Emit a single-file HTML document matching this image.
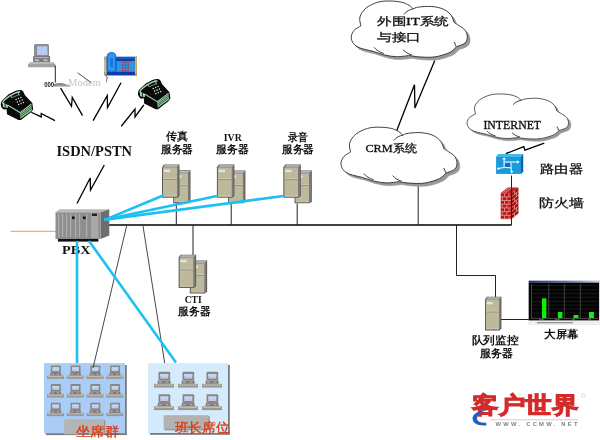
<!DOCTYPE html>
<html><head><meta charset="utf-8">
<style>
html,body{margin:0;padding:0;background:#fff;width:600px;height:440px;overflow:hidden}
svg{position:absolute;left:0;top:0;display:block;will-change:transform}
text{font-family:"Liberation Serif",serif}
</style></head><body>
<svg width="600" height="440" viewBox="0 0 600 440">
<defs>
  <path id="cloudp" d="M9.4,24.6 C9.23,23.12 7.55,18.67 8.40,15.70 C9.25,12.73 11.52,9.27 14.50,6.80 C17.48,4.33 22.35,2.08 26.30,0.90 C30.25,-0.28 34.25,-0.30 38.20,-0.30 C42.15,-0.30 46.78,0.18 50.00,0.90 C53.22,1.62 55.58,2.88 57.50,4.00 C59.42,5.12 60.83,7.00 61.50,7.60 C62.42,7.30 63.85,6.20 67.00,5.80 C70.15,5.40 76.20,4.83 80.40,5.20 C84.60,5.57 89.00,6.53 92.20,8.00 C95.40,9.47 97.88,11.83 99.60,14.00 C101.32,16.17 102.02,19.83 102.50,21.00 C103.33,21.55 105.65,22.97 107.50,24.30 C109.35,25.63 112.22,27.12 113.60,29.00 C114.98,30.88 115.82,33.47 115.80,35.60 C115.78,37.73 115.30,40.17 113.50,41.80 C111.70,43.43 106.42,44.80 105.00,45.40 C103.85,46.37 101.72,49.50 98.10,51.20 C94.48,52.90 88.32,54.87 83.30,55.60 C78.28,56.33 72.22,55.83 68.00,55.60 C63.78,55.37 59.67,54.43 58.00,54.20 C55.83,54.40 49.05,55.47 45.00,55.40 C40.95,55.33 37.80,54.75 33.70,53.80 C29.60,52.85 22.62,50.38 20.40,49.70 C18.43,49.20 11.67,47.93 8.60,46.70 C5.53,45.47 3.47,44.15 2.00,42.30 C0.53,40.45 -0.37,37.82 -0.25,35.60 C-0.13,33.38 1.09,30.83 2.70,29.00 C4.31,27.17 8.28,25.33 9.40,24.60 Z"/>
  <g id="cloud">
    <use href="#cloudp" transform="translate(2.8,2.8)" fill="#989898" stroke="#989898" stroke-width="0.6" vector-effect="non-scaling-stroke"/>
    <use href="#cloudp" fill="#fff" stroke="#3c3c3c" stroke-width="1" vector-effect="non-scaling-stroke"/>
    <path d="M52.5,13 C55,10 58,8.3 62,7.5 M22.6,46 C25,49 28,51 32.3,52.2 M51.4,48.2 C54,51 56.5,52.6 60.3,53.6 M102.5,40.5 C103.5,42 104,43.5 104.5,45.2" fill="none" stroke="#3c3c3c" stroke-width="1" vector-effect="non-scaling-stroke"/>
  </g>
  <g id="tower">
    <path d="M0,3 L2,0.3 L17.5,0.3 L17.5,31.5 L15.5,33.5 L0,33.5 Z" fill="#5a5a5a"/>
    <polygon points="1,3.2 2.6,1.1 16.6,1.1 15,3.2" fill="#a8a8a8"/>
    <line x1="2.6" y1="1.3" x2="16.4" y2="1.3" stroke="#d4d4d4" stroke-width="0.6"/>
    <rect x="1" y="3.2" width="14" height="29.4" fill="#bdb99c"/>
    <polygon points="15,3.2 16.6,1.1 16.6,31.2 15,32.6" fill="#7c7c7c"/>
    <rect x="1.9" y="5.4" width="6.3" height="2.4" fill="#e4e4dc"/>
    <line x1="1" y1="15.3" x2="15" y2="15.3" stroke="#8a866f" stroke-width="0.9"/>
    <line x1="1" y1="14.5" x2="15" y2="14.5" stroke="#d6d2bc" stroke-width="0.6"/>
    <line x1="1.5" y1="31.6" x2="14.5" y2="31.6" stroke="#d0ccb4" stroke-width="0.6"/>
  </g>
  <g id="srv">
    <use href="#tower" transform="translate(11.2,5.8) scale(0.99,0.99)"/>
    <use href="#tower" transform="translate(0,0)"/>
  </g>
  <g id="pc">
    <rect x="4.5" y="0" width="11.7" height="8.8" rx="1" fill="#8a8680"/>
    <rect x="6.3" y="2.2" width="8" height="4.5" fill="#c6c8f2"/><rect x="6.3" y="2.2" width="8" height="1.8" fill="#bcdcf0"/>
    <rect x="3.7" y="8.8" width="12.9" height="3.2" fill="#7f7a76"/>
    <rect x="5" y="9.6" width="3" height="1.4" fill="#b0aaa5"/>
    <rect x="11.5" y="9.6" width="3" height="1.4" fill="#b0aaa5"/>
    <rect x="0" y="12" width="20" height="3.8" fill="#9d9690"/>
    <rect x="1" y="12.6" width="18" height="1.2" fill="#c4bdb6"/>
  </g>
  <g id="phone">
    <path d="M1.8,18.8 C0.6,17.5 0.3,16 0.55,14.7 C0.9,13 1.6,12 2.6,11.3 L8.3,6.7 L14.9,3.7 C17,3 19,2.8 20.6,2.9 C21.8,3.1 22.6,3.7 23.05,4.4 L24.7,7.5 L32,14.3 L32.9,19.6 L31.2,21.9 L20.6,29.1 L18.1,29.1 L6.7,24.1 L6.3,19.6 L3.4,20 Z" fill="#0a0a0a"/>
    <path d="M2.2,14.6 C2.8,13 3.5,12 4.6,11.3 L9.1,8.2 L14.9,5.6 C16.5,4.9 18,4.5 19.8,4.4" fill="none" stroke="#a8deb0" stroke-width="1.3"/>
    <path d="M2.4,13.6 L7.6,16 L7.4,18.6 L2.6,17.8 Z" fill="#a8deb0"/>
    <path d="M4.8,14.2 L4.9,18.2" stroke="#0a0a0a" stroke-width="0.8"/>
    <path d="M10.2,7.2 L11.6,9.8 M17.6,4.4 L19,7.6" stroke="#a8deb0" stroke-width="0.8" fill="none"/><path d="M11.8,9.6 L19,6.8" stroke="#a8deb0" stroke-width="0.6" fill="none"/>
    <path d="M7.5,16.2 L19.8,22.6 L31.2,15.1" fill="none" stroke="#a8deb0" stroke-width="0.9"/>
        <path d="M19.4,23.6 L31.2,16.2 L31.6,20.7 L20.2,27.9 Z" fill="#8ccc98"/>
    <path d="M19.6,25 L31.3,17.6 M19.8,26.4 L31.4,19.1" stroke="#0a0a0a" stroke-width="0.5"/>
    <g fill="#d8f4d8"><circle cx="15.80" cy="11.20" r="0.72"/><circle cx="18.20" cy="10.30" r="0.72"/><circle cx="20.60" cy="9.40" r="0.72"/><circle cx="17.10" cy="13.40" r="0.72"/><circle cx="19.50" cy="12.50" r="0.72"/><circle cx="21.90" cy="11.60" r="0.72"/><circle cx="18.40" cy="15.60" r="0.72"/><circle cx="20.80" cy="14.70" r="0.72"/><circle cx="23.20" cy="13.80" r="0.72"/></g>
  </g>
</defs>

<!-- orange line -->
<line x1="10.5" y1="231.3" x2="56" y2="231.3" stroke="#f0a030" stroke-width="1"/>

<!-- main bus -->
<polyline points="109,225 511.5,225" fill="none" stroke="#000" stroke-width="1.3"/>
<!-- server drops -->
<g stroke="#222" stroke-width="1">
<line x1="176.3" y1="203" x2="176.3" y2="225"/>
<line x1="231.2" y1="203.5" x2="231.2" y2="225"/>
<line x1="297.2" y1="203.5" x2="297.2" y2="225"/>
<line x1="193" y1="225" x2="193" y2="255"/>
<line x1="418.2" y1="184" x2="418.2" y2="225"/>
<polyline points="456.5,225 456.5,275.5 495.5,275.5 495.5,297" fill="none"/>
<line x1="501" y1="319.5" x2="529" y2="319.5"/>
</g>
<!-- thin lines to agents -->


<!-- lightning bolts -->
<g fill="none" stroke="#000" stroke-width="1.3" stroke-linejoin="miter">
<polyline points="104.3,165 90.5,190 90.2,178 77,203.5"/>
<polyline points="60.6,88.1 71.5,106.25 72.25,97.5 82.5,115.6"/>
<polyline points="31.25,112.25 41.25,116.9 41.25,113.5 55,120.6"/>
<polyline points="121,82.75 107.5,107.5 107.25,95.6 93.1,120.6"/>
<polyline points="143.75,105 135,116.9 135,109 121.25,126.25"/>
<polyline points="434.8,60.6 414.9,107.9 414.5,84.7 396.6,131.1"/>
<polyline points="544.3,143.2 525,150.2 523.8,146.7 505.75,153.7"/>
</g>

<!-- clouds -->
<use href="#cloud" transform="translate(351.5,1.3)"/>
<use href="#cloud" transform="translate(341.2,127.5)"/>
<use href="#cloud" transform="translate(467.3,94.2) scale(0.874,0.80)"/>

<!-- PBX -->
<g>
  <polygon points="55.5,212.3 59.5,209.3 109.3,209.3 100.5,212.3" fill="#b9b9b9"/>
  <polygon points="100.5,212.3 109.3,209.3 109.3,235.5 100.5,239" fill="#6e6e6e"/>
  <rect x="55.5" y="212.3" width="45" height="26.6" fill="#8e8e8e"/>
  <g fill="#b0b0b0"><rect x="58" y="214" width="1.2" height="23"/><rect x="62" y="214" width="1.2" height="23"/><rect x="66" y="214" width="1.2" height="23"/><rect x="70" y="214" width="1.2" height="23"/><rect x="75" y="214" width="1.2" height="23"/><rect x="79" y="214" width="1.2" height="23"/><rect x="86" y="214" width="1.2" height="23"/></g>
  <rect x="91" y="213" width="7.4" height="25" fill="#a8a8a8"/>
  <rect x="92" y="213.5" width="5" height="2.5" fill="#202020"/>
  <rect x="72" y="216.5" width="2.6" height="2.6" fill="#111"/>
  <rect x="83" y="216.5" width="2.6" height="2.6" fill="#111"/>
  <rect x="57.9" y="238.9" width="40.5" height="2.7" fill="#111"/>
</g>

<!-- servers -->
<use href="#srv" transform="translate(162,164.2)"/>
<use href="#srv" transform="translate(216.9,164.3)"/>
<use href="#srv" transform="translate(283.3,164.3)"/>
<use href="#srv" transform="translate(178.6,254.5)"/>
<!-- queue server single tower -->
<use href="#tower" transform="translate(485,296.4) scale(0.94,1.015)"/>

<!-- blue lines -->
<g stroke="#1cc0f2" stroke-width="2.6" stroke-linecap="round">
<line x1="105.2" y1="219.6" x2="162.5" y2="195.7"/>
<line x1="105.2" y1="219.6" x2="217" y2="196"/>
<line x1="105.2" y1="219.6" x2="283.5" y2="196"/>

</g>

<!-- router -->
<g>
  <polygon points="496.1,156.4 498.3,154.1 523.2,154.1 521,156.4" fill="#3cbcf0"/>
  <rect x="496.1" y="156.4" width="24.9" height="17.5" fill="#1a9ad8"/>
  <polygon points="521,156.4 523.2,154.1 523.2,171.8 521,173.9" fill="#0a64a4"/>
  <ellipse cx="507.8" cy="165.3" rx="3" ry="2.2" fill="#0f6cb8"/>
  <g stroke="#fff" stroke-width="1" fill="none">
    <polyline points="504.1,159 504.1,167.5 497.8,168.6"/>
    <polyline points="504.4,162 518.3,162"/>
    <polyline points="511,162.5 511,167.8 511.7,172"/>
    <polyline points="504.5,167.5 511,167.8"/>
  </g>
  <g fill="#fff">
    <polygon points="504.1,157.3 502.3,159.6 505.9,159.6"/>
    <polygon points="519.5,162 517.2,160.3 517.2,163.7"/>
    <polygon points="496.8,168.7 499.2,167 499.2,170.3"/>
    <polygon points="511.7,173.2 509.9,171 513.5,171"/>
  </g>
</g>
<!-- firewall -->
<g>
  <polygon points="500.75,193.1 507.7,187.5 518.45,187.5 511.5,193.1" fill="#c42222"/>
  <rect x="500.75" y="193.1" width="10.75" height="25.9" fill="#b81818"/>
  <polygon points="511.5,193.1 518.45,187.5 518.45,213.4 511.5,219" fill="#a01010"/>
  <g stroke="#eab0a8" stroke-width="0.7">
  <line x1="500.75" y1="196.80" x2="511.5" y2="196.80"/><line x1="504.5" y1="193.10" x2="504.5" y2="196.80"/><line x1="509" y1="193.10" x2="509" y2="196.80"/><line x1="500.75" y1="200.50" x2="511.5" y2="200.50"/><line x1="502.3" y1="196.80" x2="502.3" y2="200.50"/><line x1="506.8" y1="196.80" x2="506.8" y2="200.50"/><line x1="500.75" y1="204.20" x2="511.5" y2="204.20"/><line x1="504.5" y1="200.50" x2="504.5" y2="204.20"/><line x1="509" y1="200.50" x2="509" y2="204.20"/><line x1="500.75" y1="207.90" x2="511.5" y2="207.90"/><line x1="502.3" y1="204.20" x2="502.3" y2="207.90"/><line x1="506.8" y1="204.20" x2="506.8" y2="207.90"/><line x1="500.75" y1="211.60" x2="511.5" y2="211.60"/><line x1="504.5" y1="207.90" x2="504.5" y2="211.60"/><line x1="509" y1="207.90" x2="509" y2="211.60"/><line x1="500.75" y1="215.30" x2="511.5" y2="215.30"/><line x1="502.3" y1="211.60" x2="502.3" y2="215.30"/><line x1="506.8" y1="211.60" x2="506.8" y2="215.30"/><line x1="500.75" y1="219.00" x2="511.5" y2="219.00"/><line x1="504.5" y1="215.30" x2="504.5" y2="219.00"/><line x1="509" y1="215.30" x2="509" y2="219.00"/>
  <line x1="511.5" y1="196.80" x2="518.45" y2="191.20"/><line x1="514.5" y1="190.68" x2="514.5" y2="194.38"/><line x1="511.5" y1="200.50" x2="518.45" y2="194.90"/><line x1="516.5" y1="192.77" x2="516.5" y2="196.47"/><line x1="511.5" y1="204.20" x2="518.45" y2="198.60"/><line x1="514.5" y1="198.08" x2="514.5" y2="201.78"/><line x1="511.5" y1="207.90" x2="518.45" y2="202.30"/><line x1="516.5" y1="200.17" x2="516.5" y2="203.87"/><line x1="511.5" y1="211.60" x2="518.45" y2="206.00"/><line x1="514.5" y1="205.48" x2="514.5" y2="209.18"/><line x1="511.5" y1="215.30" x2="518.45" y2="209.70"/><line x1="516.5" y1="207.57" x2="516.5" y2="211.27"/><line x1="511.5" y1="219.00" x2="518.45" y2="213.40"/><line x1="514.5" y1="212.88" x2="514.5" y2="216.58"/>
  <line x1="502.5" y1="193.1" x2="509.5" y2="187.5"/><line x1="505" y1="193.1" x2="512" y2="187.5"/>
  </g>
</g>
<line x1="511.5" y1="175.5" x2="511.5" y2="225" stroke="#222" stroke-width="1"/>

<!-- big screen -->
<g>
  <defs><linearGradient id="tb" x1="0" x2="1"><stop offset="0" stop-color="#1c2c78"/><stop offset="0.6" stop-color="#6a82b0"/><stop offset="1" stop-color="#c8d4e0"/></linearGradient></defs>
  <rect x="528.7" y="280.7" width="71.3" height="44.2" fill="#d8d8d8"/>
  <rect x="528.7" y="280.7" width="71.3" height="2" fill="url(#tb)"/>
  <rect x="528.7" y="282.7" width="70.3" height="37.9" fill="#030303"/>
  <g stroke="#262626" stroke-width="0.6"><line x1="531.5" y1="285.5" x2="598" y2="285.5"/><line x1="531.5" y1="289.8" x2="598" y2="289.8"/><line x1="531.5" y1="293.5" x2="598" y2="293.5"/><line x1="531.5" y1="297.2" x2="598" y2="297.2"/><line x1="531.5" y1="301.5" x2="598" y2="301.5"/><line x1="531.5" y1="305.2" x2="598" y2="305.2"/><line x1="531.5" y1="308.9" x2="598" y2="308.9"/><line x1="531.5" y1="313" x2="598" y2="313"/><line x1="531.5" y1="317" x2="598" y2="317"/></g>
  <g stroke="#5a5a5a" stroke-width="0.7"><line x1="531.5" y1="284" x2="531.5" y2="318.5"/><line x1="548.8" y1="284" x2="548.8" y2="318.5"/><line x1="564.3" y1="284" x2="564.3" y2="318.5"/><line x1="580.3" y1="284" x2="580.3" y2="318.5"/><line x1="531.5" y1="318.5" x2="598" y2="318.5"/></g>
  <g fill="#10ee10"><rect x="542" y="298.4" width="4.4" height="19.7"/><rect x="557.9" y="312" width="4.5" height="6.1"/><rect x="573.5" y="315" width="5" height="3.1"/><rect x="589" y="312" width="4.9" height="6.1"/></g>
  <g fill="#707070"><rect x="539" y="319.3" width="5" height="0.8"/><rect x="555" y="319.3" width="5" height="0.8"/><rect x="572" y="319.3" width="3" height="0.8"/><rect x="588" y="319.3" width="3" height="0.8"/></g>
  <rect x="528.7" y="320.6" width="71.3" height="4.3" fill="#f0f0f0"/>
  <rect x="537" y="322" width="36" height="1.3" fill="#909090"/>
</g>

<!-- modem & computer -->
<g>
  <path d="M34,55.9 L34,45.5 Q34,44 35.5,44 L47.5,44 Q49,44 49,45.5 L49,55.9 Z" fill="#8e8e8e"/>
  <rect x="37.1" y="46.3" width="10.2" height="8.5" fill="#b4cdf6"/>
  <rect x="37.1" y="51" width="10.2" height="3.8" fill="#c6c4f0"/>
  <rect x="33.1" y="55.9" width="17" height="6.3" fill="#7a7a7a"/>
  <rect x="34.5" y="57.2" width="14" height="1" fill="#b8b8b8"/>
  <rect x="35" y="59.5" width="4" height="1.6" fill="#c8c8c8"/>
  <rect x="43.5" y="59.5" width="4" height="1.6" fill="#c8c8c8"/>
  <path d="M28,67.3 L28,64.5 L30,62.2 L53.5,62.2 L55.3,64.5 L55.3,67.3 Z" fill="#a2a2a2"/>
  <rect x="29" y="62.6" width="25" height="1" fill="#c8c8c8"/>
  <line x1="55.3" y1="65.5" x2="55.3" y2="82.5" stroke="#222" stroke-width="1"/>
  <path d="M54,86.6 L54,84 Q58,82.5 62,83 L70.6,85.8 L70.6,86.6 Z" fill="#8a8a8a"/>
  <rect x="56" y="85.6" width="14" height="1" fill="#c0c0c0"/>
  <text x="44.2" y="86.6" font-size="7.8" font-weight="bold" fill="#1a1a1a" style='font-family:"Liberation Sans",sans-serif' textLength="10" lengthAdjust="spacingAndGlyphs">000</text>
  <text x="68" y="85.5" font-size="11" fill="#c4c4c4" style='font-family:"Liberation Serif",serif' textLength="33" lengthAdjust="spacingAndGlyphs">Modem</text>
  <line x1="77.5" y1="72.75" x2="91" y2="82.5" stroke="#555" stroke-width="1"/>
</g>

<!-- blue phone -->
<g>
  <rect x="104.6" y="56.8" width="32.4" height="18.5" fill="#1f7ee2"/>
  <rect x="104.6" y="56.8" width="32.4" height="3.4" fill="#1456c8"/>
  <rect x="115.4" y="59.5" width="20" height="1.6" fill="#0c3a9a"/>
  <rect x="117" y="61" width="17.5" height="10.5" fill="#2c95e6"/>
  <rect x="104.6" y="71.9" width="32.4" height="3.4" fill="#0c3aa8"/>
  <rect x="104.6" y="56.8" width="2" height="18" fill="#e4b040"/>
  <rect x="134.9" y="56.8" width="2" height="18" fill="#e4b040"/>
  <path d="M107.2,56.5 Q107.2,52.5 111.5,52.5 Q115.8,52.5 115.8,56.5 L115.8,68 Q115.8,72 111.5,72 Q107.2,72 107.2,68 Z" fill="#2e96f0" stroke="#0d4eb8" stroke-width="0.8"/>
  <rect x="110" y="58" width="3" height="9" fill="#1a78d8"/>
  <g fill="#d02828"><rect x="121.9" y="61.5" width="1.6" height="1.6"/><rect x="124.6" y="61.5" width="1.6" height="1.6"/><rect x="127.3" y="61.5" width="1.6" height="1.6"/><rect x="121.9" y="64.4" width="1.6" height="1.6"/><rect x="124.6" y="64.4" width="1.6" height="1.6"/><rect x="127.3" y="64.4" width="1.6" height="1.6"/><rect x="121.9" y="67.2" width="1.6" height="1.6"/><rect x="124.6" y="67.2" width="1.6" height="1.6"/><rect x="127.3" y="67.2" width="1.6" height="1.6"/><rect x="121.9" y="70" width="1.6" height="1.4" /><rect x="124.6" y="70" width="1.6" height="1.4"/><rect x="127.3" y="70" width="1.6" height="1.4"/></g>
  <path d="M107.5,74.5 C105,76.5 106.5,78.5 108,77.5 C106,79.5 106,81 107,82.5" stroke="#505050" stroke-width="0.8" fill="none"/>
</g>

<!-- green phones -->
<use href="#phone" transform="translate(0.3,86.7) scale(1,1.145)"/>
<use href="#phone" transform="translate(137.5,75.7) scale(1,1.15)"/>

<!-- agent groups -->
<g>
  <rect x="45.8" y="365" width="81" height="70.1" fill="#7a7a7a"/>
  <rect x="44" y="363.1" width="81" height="70.2" fill="#a9cdf6"/>
  <rect x="65.2" y="420.2" width="40" height="14.8" fill="#8a8a8a"/><rect x="64.2" y="419.2" width="40" height="14.8" fill="#b4b4b4"/>
  <g id="g1">
  <use href="#pc" transform="translate(47,365.4) scale(0.85)"/>
  <use href="#pc" transform="translate(66.75,365.4) scale(0.85)"/>
  <use href="#pc" transform="translate(86.5,365.4) scale(0.85)"/>
  <use href="#pc" transform="translate(106.25,365.4) scale(0.85)"/>
  </g>
  <use href="#g1" transform="translate(0,18.7)"/>
  <use href="#g1" transform="translate(0,37.3)"/>
</g>
<g>
  <rect x="149.9" y="364.9" width="79.9" height="69.9" fill="#7a7a7a"/>
  <rect x="148.1" y="363.1" width="79.9" height="69.9" fill="#d3ebfc"/>
  <rect x="164.6" y="416.2" width="45" height="14.1" fill="#8a8a8a"/><rect x="163.6" y="415.2" width="45" height="14.1" fill="#b2b2b2"/>
  <g id="g2">
  <use href="#pc" transform="translate(154,371.8)"/>
  <use href="#pc" transform="translate(178,371.8)"/>
  <use href="#pc" transform="translate(202,371.8)"/>
  </g>
  <use href="#g2" transform="translate(0,22.5)"/>
</g>

<!-- thin lines -->
<g stroke="#333" stroke-width="0.9">
<line x1="126.6" y1="226" x2="93" y2="368"/>
<line x1="143" y1="226" x2="164.7" y2="363"/>
</g>
<!-- logo -->
<g>
  <line x1="490" y1="419.8" x2="578" y2="419.8" stroke="#c0c0c0" stroke-width="0.8"/>
  <text x="495.5" y="425.8" font-size="5.8" font-weight="bold" fill="#808080" style='font-family:"Liberation Sans",sans-serif' textLength="82" lengthAdjust="spacing">WWW. CCMW. NET</text>
  <circle cx="583.3" cy="395.5" r="1.8" fill="none" stroke="#b0b0b0" stroke-width="0.5"/>
</g>

<text x="56.5" y="156.0" font-size="15.61" font-weight="bold" fill="#111" stroke="#111" stroke-width="0.0" style='font-family:"Liberation Serif", serif' textLength="75.5" lengthAdjust="spacingAndGlyphs">ISDN/PSTN</text>
<text x="62.1" y="254.3" font-size="13.1" font-weight="bold" fill="#111" stroke="#111" stroke-width="0.0" style='font-family:"Liberation Serif", serif' textLength="28.3" lengthAdjust="spacingAndGlyphs">PBX</text>
<text x="166.4" y="140.3" font-size="10.6" font-weight="bold" fill="#111" stroke="#111" stroke-width="0.0" style='font-family:"Liberation Serif", serif' textLength="22.1" lengthAdjust="spacingAndGlyphs">传真</text>
<text x="161.0" y="153.0" font-size="10.6" font-weight="bold" fill="#111" stroke="#111" stroke-width="0.0" style='font-family:"Liberation Serif", serif' textLength="32.2" lengthAdjust="spacingAndGlyphs">服务器</text>
<text x="223.8" y="141.0" font-size="11.29" font-weight="bold" fill="#111" stroke="#111" stroke-width="0.0" style='font-family:"Liberation Serif", serif' textLength="18.0" lengthAdjust="spacingAndGlyphs">IVR</text>
<text x="216.4" y="153.0" font-size="10.6" font-weight="bold" fill="#111" stroke="#111" stroke-width="0.0" style='font-family:"Liberation Serif", serif' textLength="32.6" lengthAdjust="spacingAndGlyphs">服务器</text>
<text x="287.8" y="140.6" font-size="10.6" font-weight="bold" fill="#111" stroke="#111" stroke-width="0.0" style='font-family:"Liberation Serif", serif' textLength="19.8" lengthAdjust="spacingAndGlyphs">录音</text>
<text x="282.1" y="153.0" font-size="10.6" font-weight="bold" fill="#111" stroke="#111" stroke-width="0.0" style='font-family:"Liberation Serif", serif' textLength="31.9" lengthAdjust="spacingAndGlyphs">服务器</text>
<text x="184.8" y="303.3" font-size="9.56" font-weight="bold" fill="#111" stroke="#111" stroke-width="0.0" style='font-family:"Liberation Serif", serif' textLength="16.8" lengthAdjust="spacingAndGlyphs">CTI</text>
<text x="178.3" y="314.7" font-size="10.6" font-weight="bold" fill="#111" stroke="#111" stroke-width="0.0" style='font-family:"Liberation Serif", serif' textLength="32.1" lengthAdjust="spacingAndGlyphs">服务器</text>
<text x="471.6" y="344.1" font-size="10.6" font-weight="bold" fill="#111" stroke="#111" stroke-width="0.0" style='font-family:"Liberation Serif", serif' textLength="46.7" lengthAdjust="spacingAndGlyphs">队列监控</text>
<text x="479.6" y="356.5" font-size="10.6" font-weight="bold" fill="#111" stroke="#111" stroke-width="0.0" style='font-family:"Liberation Serif", serif' textLength="32.9" lengthAdjust="spacingAndGlyphs">服务器</text>
<text x="544.4" y="337.6" font-size="10.6" font-weight="bold" fill="#111" stroke="#111" stroke-width="0.0" style='font-family:"Liberation Serif", serif' textLength="34.2" lengthAdjust="spacingAndGlyphs">大屏幕</text>
<text x="377.1" y="24.9" font-size="11.2" font-weight="normal" fill="#111" stroke="#111" stroke-width="0.3" style='font-family:"Liberation Serif", serif' textLength="71.8" lengthAdjust="spacingAndGlyphs">外围IT系统</text>
<text x="377.1" y="41.3" font-size="11.2" font-weight="normal" fill="#111" stroke="#111" stroke-width="0.3" style='font-family:"Liberation Serif", serif' textLength="44.0" lengthAdjust="spacingAndGlyphs">与接口</text>
<text x="365.4" y="152.3" font-size="11.2" font-weight="normal" fill="#111" stroke="#111" stroke-width="0.3" style='font-family:"Liberation Serif", serif' textLength="51.2" lengthAdjust="spacingAndGlyphs">CRM系统</text>
<text x="483.4" y="129.3" font-size="12.94" font-weight="normal" fill="#111" stroke="#111" stroke-width="0.35" style='font-family:"Liberation Serif", serif' textLength="57.7" lengthAdjust="spacingAndGlyphs">INTERNET</text>
<text x="540.3" y="173.1" font-size="11.6" font-weight="normal" fill="#111" stroke="#111" stroke-width="0.3" style='font-family:"Liberation Serif", serif' textLength="42.6" lengthAdjust="spacingAndGlyphs">路由器</text>
<text x="539.0" y="206.9" font-size="11.6" font-weight="normal" fill="#111" stroke="#111" stroke-width="0.3" style='font-family:"Liberation Serif", serif' textLength="44.9" lengthAdjust="spacingAndGlyphs">防火墙</text>
<text x="75.6" y="436.1" font-size="12.85" font-weight="normal" fill="#dd3a10" stroke="#dd3a10" stroke-width="0.35" style='font-family:"Liberation Serif", serif' textLength="43.5" lengthAdjust="spacingAndGlyphs">坐席群</text>
<text x="174.8" y="432.4" font-size="12.65" font-weight="normal" fill="#dd3a10" stroke="#dd3a10" stroke-width="0.35" style='font-family:"Liberation Serif", serif' textLength="54.8" lengthAdjust="spacingAndGlyphs">班长席位</text>
<text x="472.25" y="413.2" font-size="23.32" font-weight="bold" fill="#d42a2a" stroke="#d42a2a" stroke-width="1.0" style='font-family:"Liberation Sans", serif' textLength="105.95" lengthAdjust="spacingAndGlyphs">客户世界</text>
<g stroke="#1cc0f2" stroke-width="2.6"><line x1="77" y1="241" x2="77" y2="363.1"/><line x1="89" y1="241" x2="176" y2="362.5"/></g>
<path d="M488.5,409.3 C479,410 471,414.5 472.8,420 C474,424.5 480,426 486.5,425.2 L486.3,422.8 C481,423 476.8,421.5 477,418.2 C477.5,414 483,411 488.5,409.3 Z" fill="#1f5fc0"/>
</svg>
</body></html>
